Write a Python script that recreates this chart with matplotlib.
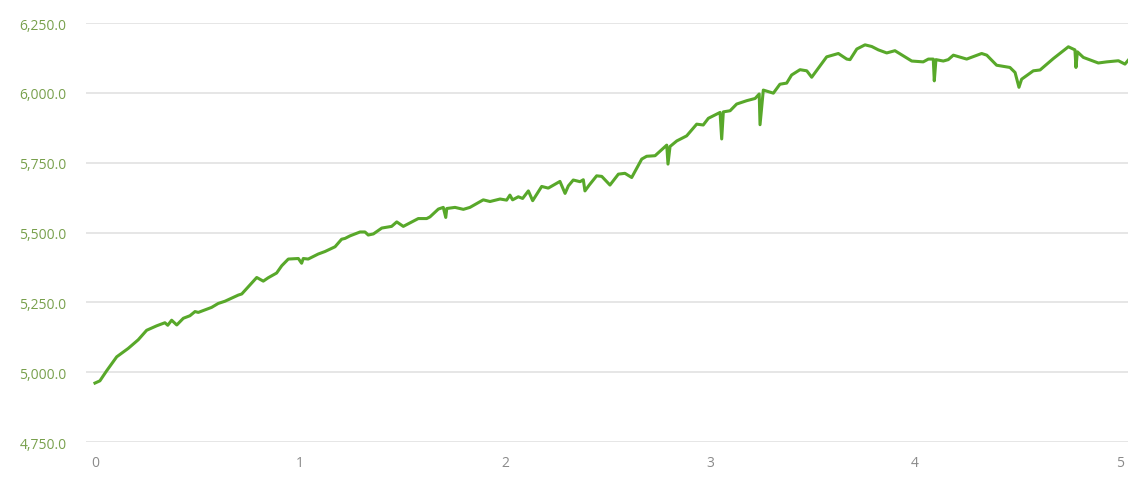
import matplotlib
matplotlib.use("Agg")
import matplotlib.pyplot as plt
from matplotlib.ticker import FuncFormatter, MultipleLocator

# distance (km) and elevation (m)
dist = [0.000, 0.024, 0.057, 0.106, 0.162, 0.211, 0.252, 0.301, 0.341, 0.355,
        0.374, 0.399, 0.431, 0.463, 0.488, 0.504, 0.569, 0.601, 0.634, 0.699,
        0.716, 0.748, 0.789, 0.821, 0.845, 0.886, 0.911, 0.943, 0.992, 1.008,
        1.016, 1.040, 1.089, 1.122, 1.171, 1.203, 1.220, 1.244, 1.293, 1.317,
        1.333, 1.358, 1.399, 1.447, 1.472, 1.504, 1.577, 1.618, 1.634, 1.675,
        1.699, 1.711, 1.716, 1.756, 1.797, 1.829, 1.894, 1.927, 1.976, 2.008,
        2.024, 2.037, 2.065, 2.086, 2.114, 2.135, 2.179, 2.211, 2.268, 2.293,
        2.309, 2.333, 2.366, 2.382, 2.390, 2.411, 2.447, 2.472, 2.512, 2.553,
        2.585, 2.618, 2.667, 2.691, 2.732, 2.789, 2.795, 2.805, 2.838, 2.886,
        2.935, 2.967, 2.992, 3.049, 3.057, 3.065, 3.098, 3.130, 3.179, 3.220,
        3.240, 3.244, 3.260, 3.309, 3.341, 3.374, 3.398, 3.439, 3.472, 3.496,
        3.569, 3.626, 3.667, 3.683, 3.716, 3.756, 3.789, 3.821, 3.862, 3.902,
        3.984, 4.040, 4.065, 4.089, 4.094, 4.102, 4.138, 4.162, 4.187, 4.252,
        4.325, 4.350, 4.398, 4.463, 4.488, 4.507, 4.520, 4.577, 4.610, 4.675,
        4.748, 4.780, 4.785, 4.792, 4.821, 4.894, 4.935, 4.992, 5.024, 5.040]
elev = [4961, 4969, 5005, 5055, 5085, 5116, 5150, 5166, 5177, 5168,
        5186, 5169, 5193, 5202, 5217, 5214, 5232, 5246, 5254, 5276,
        5280, 5306, 5339, 5326, 5338, 5355, 5381, 5405, 5407, 5390,
        5407, 5405, 5423, 5432, 5449, 5476, 5479, 5488, 5502, 5502,
        5491, 5495, 5516, 5522, 5538, 5522, 5550, 5550, 5556, 5584,
        5590, 5554, 5586, 5590, 5583, 5590, 5617, 5611, 5620, 5616,
        5634, 5617, 5628, 5622, 5649, 5614, 5665, 5659, 5683, 5640,
        5667, 5688, 5682, 5689, 5649, 5670, 5703, 5701, 5670, 5709,
        5712, 5697, 5763, 5773, 5775, 5813, 5745, 5808, 5828, 5846,
        5888, 5885, 5909, 5930, 5835, 5932, 5936, 5960, 5972, 5980,
        5996, 5886, 6010, 5999, 6031, 6035, 6064, 6083, 6079, 6056,
        6129, 6141, 6121, 6119, 6157, 6172, 6166, 6154, 6143, 6151,
        6114, 6111, 6121, 6121, 6043, 6119, 6114, 6119, 6135, 6121,
        6141, 6135, 6099, 6091, 6073, 6020, 6049, 6079, 6082, 6123,
        6165, 6154, 6091, 6147, 6127, 6107, 6111, 6115, 6103, 6117]

plt.rcParams['font.family'] = ['Open Sans', 'DejaVu Sans']

fig = plt.figure(figsize=(11.43, 4.81), dpi=100)
ax = fig.add_axes([0.0752, 0.079, 0.9117, 0.871])

ax.plot(dist, elev, color='#58a82a', lw=2.2, solid_joinstyle='round')

ax.set_xlim(-0.044, 5.039)
ax.set_ylim(4750, 6250)
ax.yaxis.set_major_locator(MultipleLocator(250))
ax.xaxis.set_major_locator(MultipleLocator(1))
ax.yaxis.set_major_formatter(FuncFormatter(lambda v, p: '{:,.1f}'.format(v)))

ax.grid(axis='y', color='#e2e2e2', lw=1.2)
ax.set_axisbelow(True)
for s in ax.spines.values():
    s.set_visible(False)
ax.tick_params(axis='both', length=0)
ax.tick_params(axis='y', colors='#78a04c', labelsize=10, pad=14)
ax.tick_params(axis='x', colors='#8a8a8a', labelsize=10, pad=9)

fig.savefig('out.png', dpi=100)
